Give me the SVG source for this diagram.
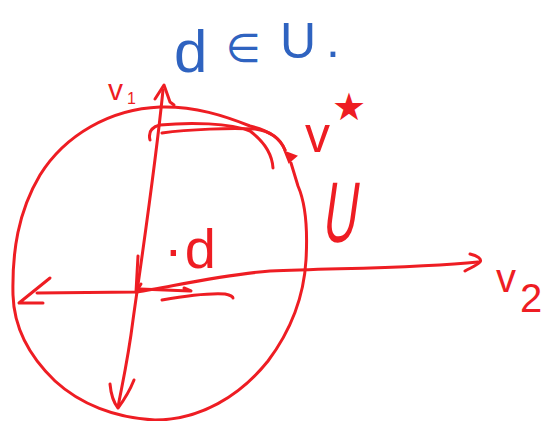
<svg xmlns="http://www.w3.org/2000/svg" width="542" height="421" viewBox="0 0 542 421">
<style>
.r{fill:none;stroke:#ee1d23;stroke-width:3;stroke-linecap:round;stroke-linejoin:round}
.rt{fill:#ee1d23;font-family:"Liberation Sans","DejaVu Sans",sans-serif}
.bt{fill:#2f63c0;font-family:"Liberation Sans","DejaVu Sans",sans-serif}
</style>
<rect width="542" height="421" fill="#fff"/>
<g id="title">
<text class="bt" font-size="60" x="174" y="72">d</text>
<text class="bt" font-size="40" x="226" y="62">∈</text>
<text class="bt" font-size="50" x="280" y="58">U</text>
<text class="bt" font-size="50" x="326" y="57">.</text>
</g>
<g id="circle">
<path class="r" d="M285,150 C280,138 270,131 250,126 C225,116 195,106 160,107 C110,109 65,135 40,175 C18,212 12,252 13,295 C14,330 30,357 55,381 C80,404 115,418 155,420 C200,420 240,396 268,361 C292,329 304,295 306,260 C308,225 305,202 298,186 L291,163"/>
<path d="M285,152 L296,156 L289,162 Z" fill="#ee1d23" stroke="#ee1d23" stroke-width="2"/>
</g>
<g id="connectors">
<path class="r" d="M150,140 C148,132 152,127 160,125 C190,122 230,123 250,131 C262,140 272,152 273,168"/>
<path class="r" d="M162,133 C190,129 230,128 255,129 C270,131 280,138 285,150"/>
<path class="r" d="M163,90 C155,170 140,270 133,320 C128,360 122,385 118,407"/>
<path class="r" d="M155,99 L164,85 L170,102 L174,105"/>
<path class="r" d="M110,384 C111,395 114,403 118,408 C124,400 130,390 134,380"/>
<path class="r" d="M138,256 L136,292 M141,284 L136,292"/>
<path class="r" d="M37,293 L137,292 C170,287 220,275 270,271 C350,268 420,268 478,262"/>
<path class="r" d="M50,278 L19,303 L43,303"/>
<path class="r" d="M470,254 C478,256 482,259 480,262 C476,266 470,268 465,271"/>
<path class="r" d="M140,289 L190,291 M184,288 L191,291"/>
<path class="r" d="M162,300 C185,296 210,293 225,294 C230,295 233,297 233,298"/>
</g>
<g id="labels">
<text class="rt" font-size="30" x="108" y="100">v<tspan font-size="16" x="127" y="104">1</tspan></text>
<text class="rt" font-size="50" x="305" y="152">v<tspan x="332" y="120" font-size="38" font-family="DejaVu Sans,sans-serif">★</tspan></text>
<text class="rt" font-size="86" transform="translate(321,242) skewX(-8) scale(0.55,1)">U</text>
<text class="rt" font-size="56" x="164" y="268">·<tspan dx="2">d</tspan></text>
<text class="rt" font-size="40" x="496" y="292">v<tspan x="520" y="312">2</tspan></text>
</g>
</svg>
